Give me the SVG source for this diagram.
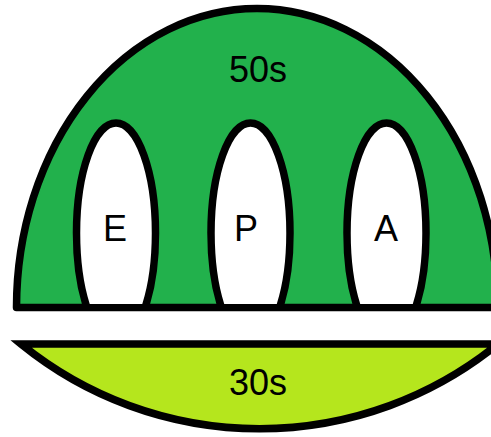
<svg xmlns="http://www.w3.org/2000/svg" width="491" height="437" viewBox="0 0 491 437">
<defs>
<style>
.ln{stroke:#000;stroke-width:7.5;}
.t{font-family:"Liberation Sans",Arial,sans-serif;font-size:36px;fill:#000;text-anchor:middle;}
</style>
<clipPath id="above"><rect x="0" y="0" width="491" height="304"/></clipPath>
</defs>
<rect width="491" height="437" fill="#fff"/>
<g id="dome">
<path class="ln" d="M16.5,307.5 A240.5 299 0 0 1 497.5,307.5 Z" fill="#22b14c" stroke-linejoin="round"/>
<text class="t" x="258" y="82">50s</text>
</g>
<g id="E" clip-path="url(#above)">
<ellipse class="ln" cx="116" cy="233" rx="39.5" ry="110" fill="#fff"/>
</g>
<g id="P" clip-path="url(#above)">
<ellipse class="ln" cx="250.5" cy="233" rx="39.5" ry="110" fill="#fff"/>
</g>
<g id="A" clip-path="url(#above)">
<ellipse class="ln" cx="386.5" cy="233" rx="39.5" ry="110" fill="#fff"/>
</g>
<g id="labels">
<text class="t" x="115" y="241">E</text>
<text class="t" x="246" y="241">P</text>
<text class="t" x="386" y="241">A</text>
</g>
<g id="bowl">
<path class="ln" d="M21,344 L498,344 A378 378 0 0 1 21,344 Z" fill="#b5e61d" stroke-linejoin="miter" stroke-miterlimit="10"/>
<text class="t" x="258" y="395">30s</text>
</g>
<g id="connectors"/>
</svg>
